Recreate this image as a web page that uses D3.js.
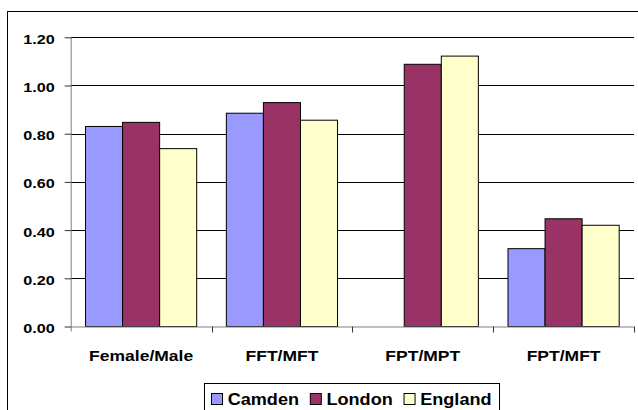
<!DOCTYPE html>
<html>
<head>
<meta charset="utf-8">
<script src="https://cdn.jsdelivr.net/npm/d3@7"></script>
<style>
  html, body { margin: 0; padding: 0; background: #fff; }
  svg { display: block; }
  text { font-family: "Liberation Sans", Arial, sans-serif; font-weight: bold; fill: #000; }
</style>
</head>
<body>
<svg id="chart" width="638" height="410"></svg>
<script>
// ---- data ----
const categories = ["Female/Male", "FFT/MFT", "FPT/MPT", "FPT/MFT"];
const seriesNames = ["Camden", "London", "England"];
const camden  = [0.83, 0.885, null, 0.323];
const london  = [0.847, 0.929, 1.088, 0.447];
const england = [0.738, 0.856, 1.122, 0.420];
const yTicks = [0, 0.2, 0.4, 0.6, 0.8, 1.0, 1.2];
const colors = ["#9999FF", "#993366", "#FFFFCC"];

const seriesValues = [camden, london, england];

const svg = d3.select("#chart");
svg.append("rect").attr("width", 638).attr("height", 410).attr("fill", "#fff");

// outer chart border (extends beyond the window on right and bottom)
svg.append("rect")
  .attr("x", 7.5).attr("y", 11.5)
  .attr("width", 660).attr("height", 430)
  .attr("fill", "none").attr("stroke", "#000").attr("stroke-width", 1);

const x0 = 70.7, x1 = 634, yTop = 37.3, yBase = 326.5;

const y = d3.scaleLinear().domain([0, 1.2]).range([yBase, yTop]);
const xCat = d3.scaleBand().domain(categories).range([x0, x1]).paddingInner(0).paddingOuter(0);
const xSer = d3.scaleBand().domain(seriesNames).range([0, xCat.bandwidth()]).paddingInner(0).paddingOuter(0.4);

// gridlines
svg.append("g").selectAll("line")
  .data(yTicks.filter(d => d > 0))
  .join("line")
  .attr("x1", x0).attr("x2", x1)
  .attr("y1", d => Math.round(y(d)) + 0.5).attr("y2", d => Math.round(y(d)) + 0.5)
  .attr("stroke", "#000").attr("stroke-width", 1);

// bars
const rows = [];
categories.forEach((c, ci) => {
  seriesNames.forEach((s, si) => {
    const v = seriesValues[si][ci];
    if (v !== null && v !== undefined) rows.push({ c, s, v, si });
  });
});
svg.append("g").selectAll("rect")
  .data(rows)
  .join("rect")
  .attr("x", d => xCat(d.c) + xSer(d.s))
  .attr("y", d => y(d.v))
  .attr("width", xSer.bandwidth())
  .attr("height", d => y(0) - y(d.v))
  .attr("fill", d => colors[d.si])
  .attr("stroke", "#000").attr("stroke-width", 1);

// y axis
const yAxis = d3.axisLeft(y).tickValues(yTicks).tickFormat(d3.format(".2f")).tickSize(6).tickPadding(0);
const gy = svg.append("g").attr("transform", `translate(${x0},0)`).call(yAxis);
gy.select(".domain").attr("stroke", "#808080").attr("d", `M0.5,${yTop}V${yBase + 5}`);
gy.selectAll(".tick line").attr("stroke", "#333").attr("x1", 0.5);
gy.selectAll(".tick text")
  .attr("x", null).attr("dy", null)
  .attr("font-size", 13.5).attr("font-family", null)
  .attr("text-anchor", "end")
  .attr("transform", "translate(-16,6) scale(1.2,1)");

// x axis
const xAxis = d3.axisBottom(xCat).tickSize(0).tickPadding(0);
const gx = svg.append("g").attr("transform", `translate(0,${yBase})`).call(xAxis);
gx.select(".domain").attr("stroke", "#808080").attr("d", `M${x0},0.5H${x1}`);
gx.selectAll(".tick text")
  .attr("y", null).attr("dy", null)
  .attr("font-size", 15.5).attr("font-family", null)
  .attr("transform", "translate(0,34.5) scale(1.13,1)");
// category boundary ticks
svg.append("g").selectAll("line")
  .data(categories.slice(1).map(c => xCat(c)).concat([x1]))
  .join("line")
  .attr("x1", d => Math.round(d) + 0.5).attr("x2", d => Math.round(d) + 0.5)
  .attr("y1", yBase).attr("y2", yBase + 6)
  .attr("stroke", "#333");

// legend
const legendG = svg.append("g");
const legendBox = legendG.append("rect")
  .attr("x", 204.5).attr("y", 383.5).attr("height", 40)
  .attr("fill", "#fff").attr("stroke", "#000").attr("stroke-width", 1);
let lx = 211;
const lScale = 1.13;
seriesNames.forEach((s, i) => {
  legendG.append("rect")
    .attr("x", lx + 0.5).attr("y", 393.5).attr("width", 11).attr("height", 11)
    .attr("fill", colors[i]).attr("stroke", "#000").attr("stroke-width", 1);
  const t = legendG.append("text")
    .attr("font-size", 16)
    .attr("transform", `translate(${lx + 16.7},404.5) scale(${lScale},1)`)
    .text(s);
  const w = t.node().getComputedTextLength() * lScale;
  lx = lx + 16.7 + w + 10.8;
});
legendBox.attr("width", lx - 10.8 + 8 - 204.5);
</script>
</body>
</html>
